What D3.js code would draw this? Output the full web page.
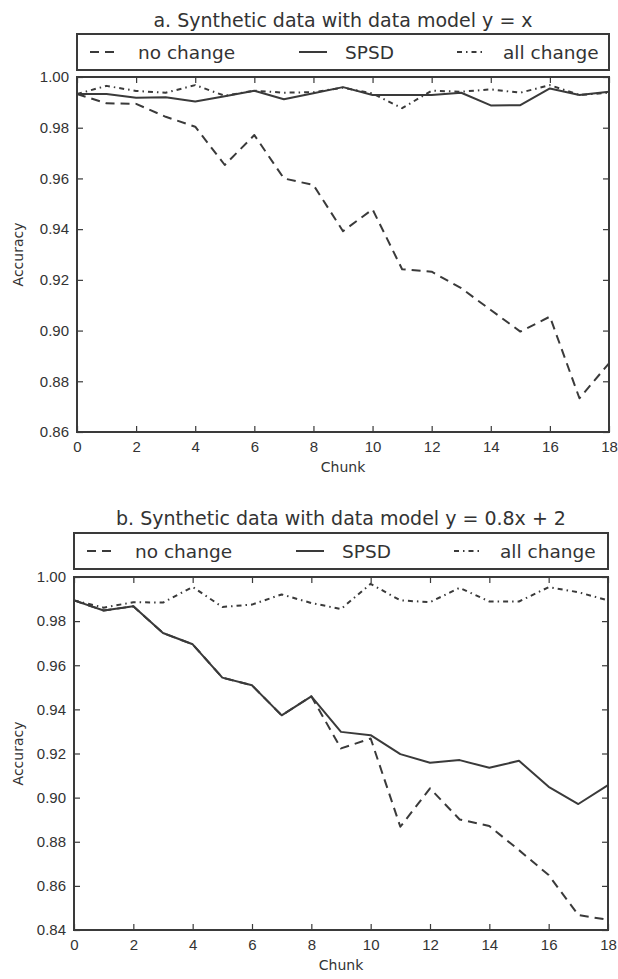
<!DOCTYPE html>
<html>
<head>
<meta charset="utf-8">
<script src="https://cdnjs.cloudflare.com/ajax/libs/d3/7.8.5/d3.min.js"></script>
<style>
  html, body { margin: 0; padding: 0; background: #fff; }
  svg { display: block; font-family: "DejaVu Sans", sans-serif; }
</style>
</head>
<body>
<svg id="chart" width="618" height="979"></svg>
<script>
// Chunk index shared by both panels
const chunks = d3.range(0, 19);
const seriesNames = ["no change", "SPSD", "all change"];
const xTicks = [0, 2, 4, 6, 8, 10, 12, 14, 16, 18];

// Panel a: y = x
const titleA = "a. Synthetic data with data model y = x";
const noChangeA = [0.9933, 0.9896, 0.9894, 0.9843, 0.9804, 0.9653, 0.9771, 0.9600, 0.9574, 0.9392,
                   0.9478, 0.9242, 0.9232, 0.9167, 0.9081, 0.8996, 0.9055, 0.8733, 0.8871];
const spsdA     = [0.9933, 0.9933, 0.9918, 0.9920, 0.9903, 0.9924, 0.9946, 0.9912, 0.9936, 0.9960,
                   0.9929, 0.9929, 0.9929, 0.9938, 0.9888, 0.9889, 0.9955, 0.9929, 0.9942];
const allChangeA = [0.9933, 0.9965, 0.9945, 0.9938, 0.9968, 0.9926, 0.9946, 0.9938, 0.9940, 0.9958,
                   0.9935, 0.9877, 0.9946, 0.9942, 0.9951, 0.9938, 0.9968, 0.9929, 0.9938];
const yTicksA = [0.86, 0.88, 0.90, 0.92, 0.94, 0.96, 0.98, 1.00];

// Panel b: y = 0.8x + 2
const titleB = "b. Synthetic data with data model y = 0.8x + 2";
const noChangeB = [0.9894, 0.9848, 0.9867, 0.9746, 0.9695, 0.9544, 0.9509, 0.9373, 0.9459, 0.9223,
                   0.9268, 0.8868, 0.9042, 0.8901, 0.8871, 0.8762, 0.8649, 0.8468, 0.8446];
const spsdB     = [0.9894, 0.9848, 0.9867, 0.9746, 0.9695, 0.9544, 0.9509, 0.9373, 0.9459, 0.9298,
                   0.9283, 0.9197, 0.9158, 0.9170, 0.9135, 0.9167, 0.9049, 0.8971, 0.9057];
const allChangeB = [0.9894, 0.9861, 0.9886, 0.9884, 0.9955, 0.9864, 0.9875, 0.9921, 0.9882, 0.9855,
                   0.9969, 0.9894, 0.9886, 0.9951, 0.9889, 0.9889, 0.9954, 0.9931, 0.9894];
const yTicksB = [0.84, 0.86, 0.88, 0.90, 0.92, 0.94, 0.96, 0.98, 1.00];

const ink = "#3a3a3a";
const dashStyles = ["9,6", null, "5,4,1.5,4"];

const svg = d3.select("#chart");

function drawPanel(cfg) {
  const x = d3.scaleLinear().domain([0, 18]).range([cfg.left, cfg.right]);
  const y = d3.scaleLinear().domain([cfg.yTicks[0], 1.00]).range([cfg.bottom, cfg.top]);
  const g = svg.append("g");
  const fmt = d3.format(".2f");

  // Ticks on all four sides, pointing inward
  const tl = 6;
  const axes = [
    [d3.axisBottom(x).tickValues(xTicks).tickSize(-tl).tickPadding(9).tickFormat(d3.format("d")), `translate(0,${cfg.bottom})`],
    [d3.axisTop(x).tickValues(xTicks).tickSize(-tl).tickFormat(""), `translate(0,${cfg.top})`],
    [d3.axisLeft(y).tickValues(cfg.yTicks).tickSize(-tl).tickPadding(8).tickFormat(fmt), `translate(${cfg.left},0)`],
    [d3.axisRight(y).tickValues(cfg.yTicks).tickSize(-tl).tickFormat(""), `translate(${cfg.right},0)`]
  ];
  axes.forEach(([ax, tr]) => {
    const a = g.append("g").attr("transform", tr).call(ax);
    a.select(".domain").remove();
    a.selectAll(".tick line").attr("stroke", ink).attr("stroke-width", 1.2);
    a.selectAll(".tick text").attr("fill", "#333").style("font-size", "15px");
  });

  // Series lines
  const line = d3.line().x((d, i) => x(chunks[i])).y(d => y(d));
  cfg.series.forEach((vals, k) => {
    g.append("path")
      .attr("d", line(vals))
      .attr("fill", "none")
      .attr("stroke", ink)
      .attr("stroke-width", 2)
      .attr("stroke-linejoin", "round")
      .attr("stroke-dasharray", dashStyles[k]);
  });

  // Plot frame
  g.append("rect")
    .attr("x", cfg.left).attr("y", cfg.top)
    .attr("width", cfg.right - cfg.left).attr("height", cfg.bottom - cfg.top)
    .attr("fill", "none").attr("stroke", ink).attr("stroke-width", 2);

  // Title
  g.append("text")
    .attr("x", (cfg.left + cfg.right) / 2).attr("y", cfg.titleY)
    .attr("text-anchor", "middle").attr("dominant-baseline", "central")
    .attr("fill", "#333").style("font-size", "19px")
    .text(cfg.title);

  // Legend box above the plot
  g.append("rect")
    .attr("x", cfg.left).attr("y", cfg.legTop)
    .attr("width", cfg.right - cfg.left).attr("height", cfg.legBottom - cfg.legTop)
    .attr("fill", "#fff").attr("stroke", ink).attr("stroke-width", 2);
  const ly = (cfg.legTop + cfg.legBottom) / 2;
  const legItems = [
    { x0: cfg.left + 13, x1: cfg.left + 41, tx: cfg.left + 61 },
    { x0: cfg.left + 222, x1: cfg.left + 250, tx: cfg.left + 268 },
    { x0: cfg.left + 380, x1: cfg.left + 405, tx: cfg.left + 426 }
  ];
  legItems.forEach((it, k) => {
    g.append("line")
      .attr("x1", it.x0).attr("x2", it.x1).attr("y1", ly).attr("y2", ly)
      .attr("stroke", ink).attr("stroke-width", 2)
      .attr("stroke-dasharray", dashStyles[k]);
    g.append("text")
      .attr("x", it.tx).attr("y", ly)
      .attr("dominant-baseline", "central")
      .attr("fill", "#333").style("font-size", "18.5px")
      .text(seriesNames[k]);
  });

  // Axis labels
  g.append("text")
    .attr("x", (cfg.left + cfg.right) / 2).attr("y", cfg.bottom + 35)
    .attr("text-anchor", "middle").attr("dominant-baseline", "central")
    .attr("fill", "#333").style("font-size", "14px")
    .text("Chunk");
  g.append("text")
    .attr("transform", `translate(18,${(cfg.top + cfg.bottom) / 2}) rotate(-90)`)
    .attr("text-anchor", "middle").attr("dominant-baseline", "central")
    .attr("fill", "#333").style("font-size", "14px")
    .text("Accuracy");
}

drawPanel({
  left: 77, right: 609, top: 77, bottom: 432,
  titleY: 20, legTop: 34, legBottom: 70,
  title: titleA, yTicks: yTicksA,
  series: [noChangeA, spsdA, allChangeA]
});

drawPanel({
  left: 74, right: 608, top: 577, bottom: 930,
  titleY: 518, legTop: 533, legBottom: 569,
  title: titleB, yTicks: yTicksB,
  series: [noChangeB, spsdB, allChangeB]
});
</script>
</body>
</html>
